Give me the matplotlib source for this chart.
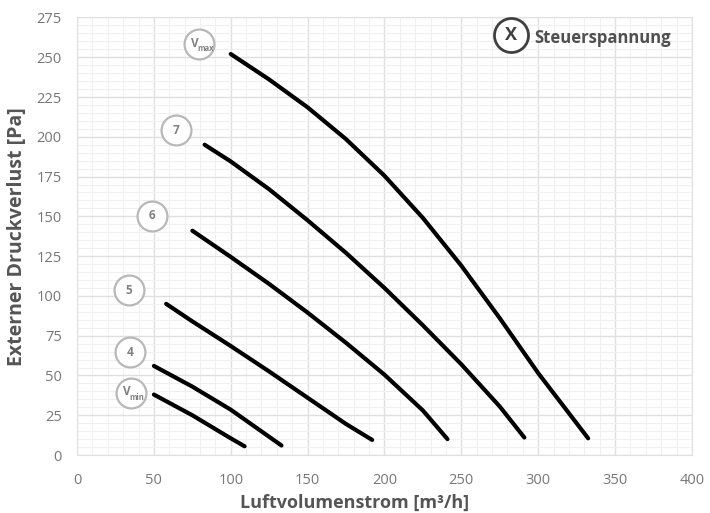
import matplotlib
matplotlib.use("Agg")
import matplotlib.pyplot as plt
from matplotlib.ticker import MultipleLocator

plt.rcParams['font.family'] = ['Open Sans', 'DejaVu Sans']

# Kennlinien (Luftvolumenstrom [m3/h], externer Druckverlust [Pa])
q_vmax = [100, 125, 150, 175, 200, 225, 250, 275, 300, 332.5]
p_vmax = [252, 236, 218.5, 198.5, 175.5, 149, 119, 86, 51.5, 10.5]

q_7 = [83, 100, 125, 150, 175, 200, 225, 250, 275, 291]
p_7 = [195, 184.5, 167, 147.5, 127, 105, 81.5, 57, 30.5, 11]

q_6 = [75, 100, 125, 150, 175, 200, 225, 241]
p_6 = [141, 124.5, 107.5, 89.5, 70.5, 50.5, 28, 10]

q_5 = [58, 75, 100, 125, 150, 175, 192]
p_5 = [95, 84, 68.5, 52.5, 36, 19.5, 9.5]

q_4 = [50, 75, 100, 133]
p_4 = [56, 43, 28.5, 6]

q_vmin = [50, 75, 100, 109]
p_vmin = [38, 25, 10.5, 5.5]

curves = [(q_vmax, p_vmax), (q_7, p_7), (q_6, p_6), (q_5, p_5), (q_4, p_4), (q_vmin, p_vmin)]

# Beschriftung der Kennlinien (Steuerspannung)
label_text = ['V', '7', '6', '5', '4', 'V']
label_sub = ['max', '', '', '', '', 'min']
label_x = [79.5, 64.5, 48.5, 34, 34.3, 34.8]
label_y = [258, 204, 150.5, 103.5, 64.5, 38.8]

fig = plt.figure(figsize=(7.1, 5.13), dpi=100)
ax = fig.add_axes([0.1085, 0.113, 0.866, 0.853])

ax.set_xlim(0, 400)
ax.set_ylim(0, 275)
ax.xaxis.set_major_locator(MultipleLocator(50))
ax.xaxis.set_minor_locator(MultipleLocator(10))
ax.yaxis.set_major_locator(MultipleLocator(25))
ax.yaxis.set_minor_locator(MultipleLocator(5))
ax.grid(which='major', color='#e0e0e0', lw=1.0)
ax.grid(which='minor', color='#f0f0f0', lw=0.8)
ax.set_axisbelow(True)
for s in ax.spines.values():
    s.set_color('#e0e0e0')
ax.tick_params(which='both', length=0, colors='#777777', labelsize=10.5)
ax.tick_params(axis='x', pad=13)
ax.tick_params(axis='y', pad=11)

for q, p in curves:
    ax.plot(q, p, color='black', lw=3, solid_capstyle='round', solid_joinstyle='round', zorder=3)

for x, y, t, sub in zip(label_x, label_y, label_text, label_sub):
    ax.plot([x], [y], marker='o', ms=21.5, mfc='white', mec='#b8b8b8', mew=1.6, zorder=4)
    if sub:
        ax.annotate(t, (x, y), xytext=(-3, 1), textcoords='offset points', ha='center', va='center',
                    fontsize=8.5, fontweight='bold', color='#808080', zorder=5)
        ax.annotate(sub, (x, y), xytext=(4.5, -3), textcoords='offset points', ha='center', va='center',
                    fontsize=5.5, fontweight='bold', color='#808080', zorder=5)
    else:
        ax.annotate(t, (x, y), ha='center', va='center', fontsize=8.5, fontweight='bold',
                    color='#808080', zorder=5)

# Legende
ax.plot([0.706], [0.96], marker='o', ms=24.5, mfc='white', mec='#404040', mew=2,
        transform=ax.transAxes, zorder=4, clip_on=False)
ax.text(0.706, 0.96, 'X', transform=ax.transAxes, ha='center', va='center',
        fontsize=13, fontweight='bold', color='#404040', zorder=5)
ax.text(0.744, 0.953, 'Steuerspannung', transform=ax.transAxes, ha='left', va='center',
        fontsize=12, fontweight='bold', color='#505050', zorder=5)

ax.set_xlabel('Luftvolumenstrom [m³/h]', fontsize=13, fontweight='bold', color='#555555')
ax.xaxis.set_label_coords(0.452, -0.089)
ax.set_ylabel('Externer Druckverlust [Pa]', fontsize=14, fontweight='bold', color='#555555', labelpad=6.5)

fig.savefig('out.png', dpi=100)
